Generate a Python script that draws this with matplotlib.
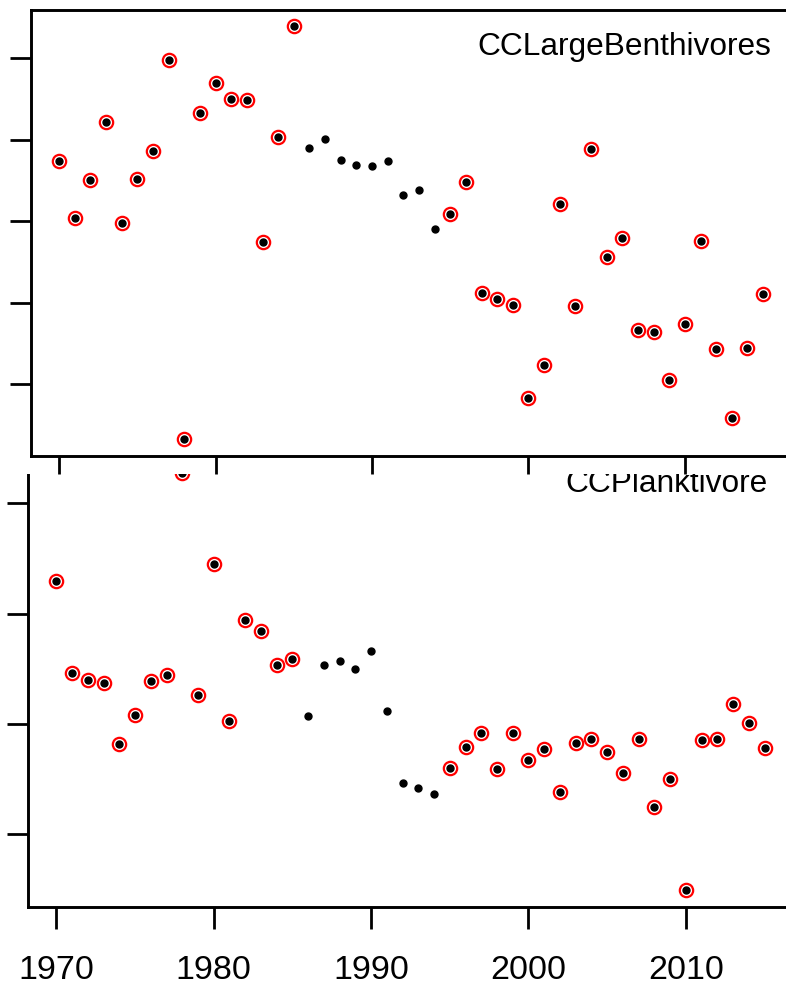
import matplotlib
matplotlib.use("Agg")
import matplotlib.pyplot as plt
import numpy as np
from matplotlib.patches import Rectangle

plt.rcParams["font.family"] = ["Liberation Sans", "DejaVu Sans"]

# Data (y in tick units: 1st tick from the bottom = 1)
years = np.arange(1970, 2016)

benthivores = [3.74, 3.04, 3.50, 4.21, 2.97, 3.51, 3.86, 4.98, 0.32, 4.33,
               4.69, 4.50, 4.48, 2.74, 4.03, 5.39, 3.89, 4.01, 3.75, 3.69,
               3.67, 3.74, 3.32, 3.38, 2.90, 3.09, 3.48, 2.12, 2.04, 1.97,
               0.83, 1.23, 3.21, 1.96, 3.88, 2.56, 2.79, 1.66, 1.64, 1.05,
               1.74, 2.75, 1.43, 0.58, 1.44, 2.10]

planktivore = [3.30, 2.46, 2.40, 2.37, 1.82, 2.08, 2.39, 2.44, 4.28, 2.26,
               3.45, 2.03, 2.94, 2.84, 2.53, 2.59, 2.07, 2.53, 2.57, 2.50,
               2.66, 2.12, 1.46, 1.42, 1.36, 1.60, 1.79, 1.92, 1.59, 1.92,
               1.67, 1.77, 1.38, 1.83, 1.86, 1.74, 1.55, 1.86, 1.25, 1.50,
               0.49, 1.85, 1.86, 2.18, 2.01, 1.78]

# years shown without the red ring
plain_years = [1986, 1987, 1988, 1989, 1990, 1991, 1992, 1993, 1994]

xticks = [1970, 1980, 1990, 2000, 2010]
top_yticks = [1, 2, 3, 4, 5]
bottom_yticks = [1, 2, 3, 4]

W, H = 786, 989
fig = plt.figure(figsize=(W / 100, H / 100), dpi=100)


def px_axes(left, top, right, bottom):
    return [left / W, 1 - bottom / H, (right - left) / W, (bottom - top) / H]


ax_top = fig.add_axes(px_axes(31, 9.7, 791.3, 456), zorder=2)
ax_bot = fig.add_axes(px_axes(28, 455.8, 792.9, 907), zorder=0)

# white band hides the top of the lower panel (cropped look)
fig.add_artist(Rectangle((0, 1 - 474 / H), 1, 474 / H, transform=fig.transFigure,
                         facecolor="white", edgecolor="none", zorder=1))


def r_lim(v):
    lo, hi = min(v), max(v)
    pad = 0.04 * (hi - lo)
    return lo - pad, hi + pad


def draw(ax, values, label, yticks, text_dx, text_dy, xtick_len):
    values = np.asarray(values)
    ring = ~np.isin(years, plain_years)
    ax.plot(years[ring], values[ring], "o", ms=9.6, mfc="none", mec="red",
            mew=1.6, ls="none")
    ax.plot(years, values, "o", ms=5.0, color="black", ls="none")
    ax.set_xlim(r_lim(years))
    ax.set_ylim(r_lim(values))
    ax.set_xticks(xticks)
    ax.set_yticks(yticks)
    ax.set_yticklabels([])
    for s in ax.spines.values():
        s.set_linewidth(2.1)
    ax.tick_params(axis="y", length=15.3, width=2.0, direction="out")
    ax.tick_params(axis="x", length=xtick_len, width=2.0, direction="out",
                   labelsize=24.5, pad=18.5)
    ax.annotate(label, xy=(1, 1), xycoords="axes fraction",
                xytext=(text_dx, text_dy), textcoords="offset points",
                ha="right", va="baseline", fontsize=22.8)


draw(ax_top, benthivores, "CCLargeBenthivores", top_yticks, -14.6, -32.6, 13)
ax_top.set_xticklabels([])
draw(ax_bot, planktivore, "CCPlanktivore", bottom_yticks, -18.4, -25.8, 15.8)

fig.savefig("out.png", dpi=100)
